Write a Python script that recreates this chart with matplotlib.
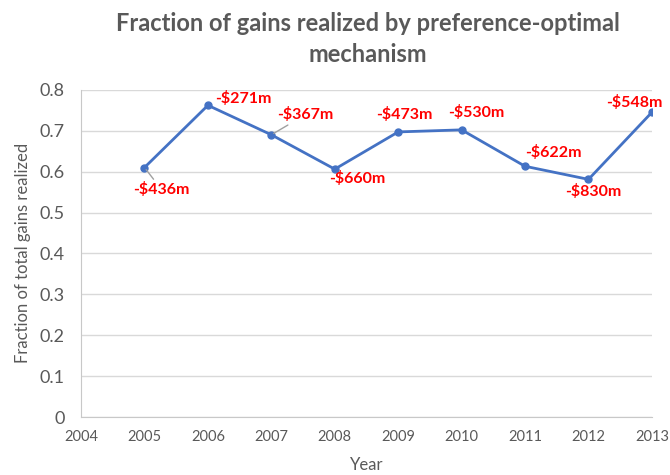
import matplotlib
matplotlib.use("Agg")
import matplotlib.pyplot as plt

years = [2005, 2006, 2007, 2008, 2009, 2010, 2011, 2012, 2013]
fraction = [0.610, 0.762, 0.690, 0.606, 0.697, 0.702, 0.613, 0.581, 0.745]
losses = ["-$436m", "-$271m", "-$367m", "-$660m", "-$473m", "-$530m", "-$622m", "-$830m", "-$548m"]
# label offsets from each point, in pixels (x right, y up)
offsets = [(17, -22), (35, 7), (34, 20), (22, -9), (6, 17), (15, 17), (28, 14), (5, -12), (-18, 10)]
leaders = [True, False, True, False, False, False, False, False, False]

grey = "#595959"
plt.rcParams["font.family"] = ["Lato", "DejaVu Sans"]

fig = plt.figure(figsize=(6.7, 4.75), dpi=100)
ax = fig.add_axes([0.121, 0.122, 0.852, 0.689])

ax.plot(years, fraction, color="#4472C4", linewidth=2.0, marker="o", markersize=5, zorder=3)

for x, y, txt, (dx, dy), lead in zip(years, fraction, losses, offsets, leaders):
    arrow = dict(arrowstyle="-", color="#A0A0A0", lw=1.0, shrinkA=0, shrinkB=2) if lead else None
    ax.annotate(txt, (x, y), xytext=(dx, dy), textcoords="offset pixels",
                ha="center", va="center", color="#FF0000", fontweight="bold", fontsize=11.5,
                arrowprops=arrow, zorder=4)

ax.set_xlim(2004, 2013)
ax.set_ylim(0, 0.8)
ax.set_xticks(range(2004, 2014))
ax.set_yticks([i / 10 for i in range(9)])
ax.set_yticklabels(["0"] + ["%.1f" % (i / 10) for i in range(1, 9)])
ax.tick_params(axis="y", length=0, labelsize=13, colors=grey, pad=12)
ax.tick_params(axis="x", length=0, labelsize=10.5, colors=grey, pad=9)
ax.grid(axis="y", color="#D9D9D9", linewidth=1)
ax.set_axisbelow(True)
for side in ["top", "right"]:
    ax.spines[side].set_visible(False)
for side in ["left", "bottom"]:
    ax.spines[side].set_color("#C8C8C8")

ax.set_xlabel("Year", fontsize=12, color=grey, labelpad=10)
ax.set_ylabel("Fraction of total gains realized", fontsize=12, color=grey, labelpad=6)
fig.suptitle("Fraction of gains realized by preference-optimal\nmechanism",
             x=0.549, fontsize=17, fontweight="bold", color=grey, y=0.975, linespacing=1.45)

fig.savefig("out.png", dpi=100)
